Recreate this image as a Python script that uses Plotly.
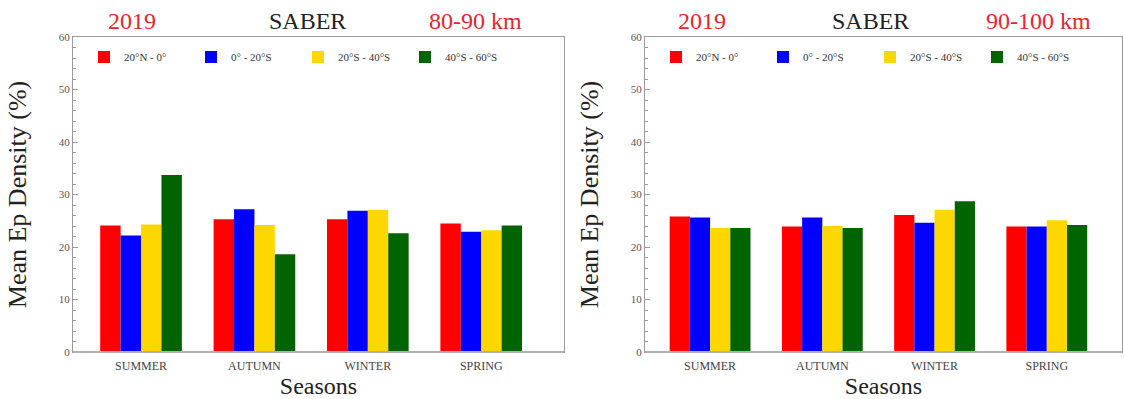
import plotly.graph_objects as go

seasons = ["SUMMER", "AUTUMN", "WINTER", "SPRING"]
bands = ["20°N - 0°", "0° - 20°S", "20°S - 40°S", "40°S - 60°S"]
colors = ["#ff0000", "#0000ff", "#ffd700", "#006400"]

# Mean Ep density (%) per latitude band, 80-90 km
ep_80_90 = {
    "20°N - 0°":   [24.1, 25.3, 25.3, 24.5],
    "0° - 20°S":   [22.2, 27.2, 26.9, 22.9],
    "20°S - 40°S": [24.3, 24.2, 27.1, 23.2],
    "40°S - 60°S": [33.7, 18.6, 22.6, 24.1],
}
# Mean Ep density (%) per latitude band, 90-100 km
ep_90_100 = {
    "20°N - 0°":   [25.8, 23.9, 26.1, 23.9],
    "0° - 20°S":   [25.6, 25.6, 24.6, 23.9],
    "20°S - 40°S": [23.6, 24.0, 27.1, 25.1],
    "40°S - 60°S": [23.6, 23.6, 28.7, 24.2],
}

W, H = 1124, 399
FONT = "Liberation Serif"
GRAY = "#9a9a9a"

fig = go.Figure()

for data, xa, ya, lg in [(ep_80_90, "x", "y", "legend"), (ep_90_100, "x2", "y2", "legend2")]:
    for band, col in zip(bands, colors):
        fig.add_trace(go.Bar(
            x=seasons, y=data[band], name=band, marker_color=col,
            marker_line_width=0, xaxis=xa, yaxis=ya, legend=lg,
        ))

ydom = [1 - 352 / H, 1 - 37 / H]
xdoms = [[73 / W, 564 / W], [645 / W, 1122 / W]]
xranges = [[-0.6, 3.73], [-0.58, 3.67]]

axis_common = dict(
    showline=True, linecolor=GRAY, mirror=True, linewidth=1,
)

for i, (xd, xr) in enumerate(zip(xdoms, xranges)):
    sfx = "" if i == 0 else "2"
    fig.update_layout(**{
        f"xaxis{sfx}": dict(
            domain=xd, range=xr, anchor=f"y{sfx}", ticks="", automargin=False,
            tickfont=dict(family=FONT, size=12, color="#444"),
            ticklabelstandoff=3,
            title=dict(text="Seasons", font=dict(family=FONT, size=24, color="#222"), standoff=4),
            **axis_common,
        ),
        f"yaxis{sfx}": dict(
            domain=ydom, range=[0, 60], anchor=f"x{sfx}", dtick=10, automargin=False,
            ticks="inside", ticklen=5, tickcolor=GRAY, showgrid=False, zeroline=False,
            minor=dict(dtick=2, ticks="inside", ticklen=3, tickcolor=GRAY),
            tickfont=dict(family=FONT, size=11, color="#555"),
            title=dict(text="Mean Ep Density (%)", font=dict(family=FONT, size=26, color="#222"), standoff=24),
            **axis_common,
        ),
    })

# bottom baseline drawn slightly heavier
for xd in xdoms:
    fig.add_shape(type="line", xref="paper", yref="paper", x0=xd[0], x1=xd[1],
                  y0=ydom[0], y1=ydom[0], line=dict(color="#b0b0b0", width=2))

legend_style = dict(
    orientation="h", yanchor="middle", xanchor="left", y=1 - 57 / H,
    font=dict(family=FONT, size=11, color="#333"), bgcolor="rgba(0,0,0,0)",
    itemwidth=30, tracegroupgap=0, entrywidth=62, entrywidthmode="pixels",
)
fig.update_layout(
    legend=dict(x=84 / W, **legend_style),
    legend2=dict(x=656 / W, **legend_style),
)

titles = [
    ("2019", 132, "#e8262a"), ("SABER", 307, "#222"), ("80-90 km", 475, "#e8262a"),
    ("2019", 702, "#e8262a"), ("SABER", 870, "#222"), ("90-100 km", 1038, "#e8262a"),
]
for txt, xc, col in titles:
    fig.add_annotation(text=txt, x=xc / W, y=1 - 21 / H, xref="paper", yref="paper",
                       showarrow=False, xanchor="center", yanchor="middle",
                       font=dict(family=FONT, size=24, color=col))

fig.update_layout(
    width=W, height=H, margin=dict(l=0, r=0, t=0, b=0, autoexpand=False),
    paper_bgcolor="white", plot_bgcolor="white",
    barmode="group", bargap=0.28, bargroupgap=0,
    showlegend=True,
)

fig.write_html("out.html")
